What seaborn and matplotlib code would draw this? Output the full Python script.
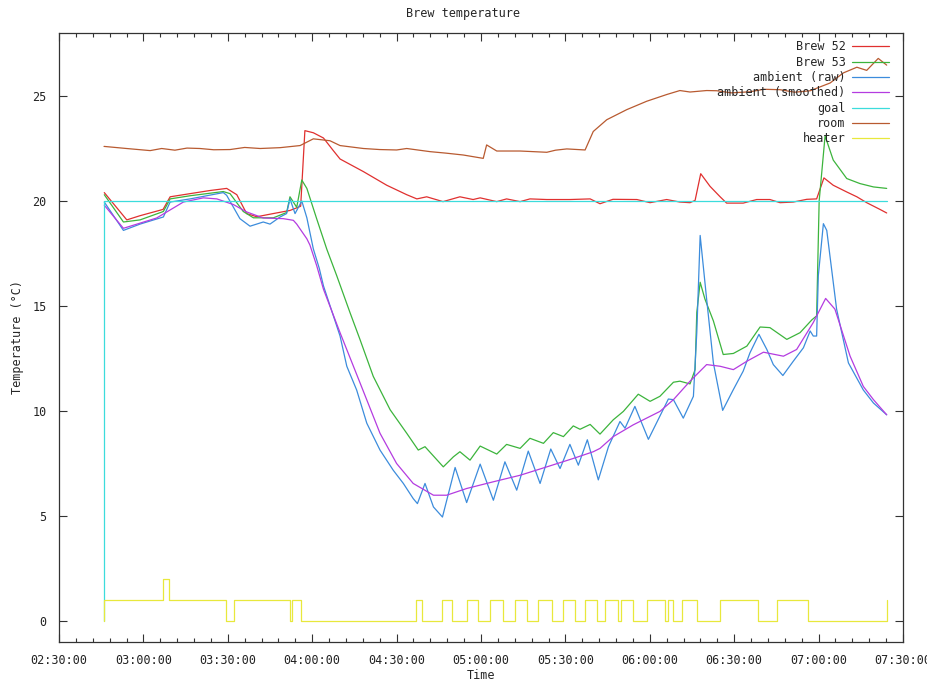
import pandas as pd
import matplotlib
matplotlib.use("Agg")
import matplotlib.pyplot as plt
import matplotlib.dates as mdates
import seaborn as sns

# minutes after 02:30:00
brew52_min = [16.1, 24.1, 28.8, 37.0, 39.5, 46.6, 53.7, 59.6, 63.2, 66.7, 70.3, 76.1, 82.1, 85.0,
              85.9, 87.4, 90.4, 94.0, 97.5, 99.9, 108.2, 116.5, 123.6, 127.2, 130.7, 136.5, 142.5,
              147.2, 149.7, 155.6, 159.1, 163.9, 167.4, 173.4, 181.6, 188.8, 192.3, 196.9, 205.4,
              210.1, 216.0, 220.7, 224.3, 226.1, 228.1, 231.4, 235.0, 237.3, 243.2, 248.0, 252.7,
              256.3, 261.0, 265.8, 269.3, 271.9, 275.2, 280.0, 283.6, 287.1, 291.8, 294.2]
brew52 = [20.4, 19.1, 19.3, 19.6, 20.2, 20.35, 20.5, 20.6, 20.3, 19.4, 19.25, 19.4, 19.55, 19.7,
          19.75, 23.35, 23.25, 23.0, 22.4, 22.0, 21.4, 20.75, 20.3, 20.1, 20.2, 19.97, 20.2,
          20.07, 20.15, 19.97, 20.1, 19.97, 20.1, 20.07, 20.07, 20.1, 19.87, 20.08, 20.07,
          19.92, 20.07, 19.95, 19.92, 20.03, 21.3, 20.7, 20.2, 19.9, 19.9, 20.07, 20.07,
          19.92, 19.95, 20.08, 20.1, 21.1, 20.75, 20.43, 20.2, 19.92, 19.6, 19.43]

brew53_min = [16.1, 22.9, 28.8, 37.1, 39.5, 46.6, 58.4, 60.8, 65.5, 69.1, 76.2, 80.9, 82.1, 84.5,
              86.3, 88.1, 91.6, 95.2, 98.7, 103.4, 107.0, 111.7, 117.7, 123.6, 127.7, 130.1, 136.6,
              140.2, 142.5, 146.1, 149.7, 155.6, 159.1, 163.9, 167.4, 172.2, 175.7, 179.3, 182.8,
              185.2, 188.8, 192.3, 197.0, 200.6, 205.9, 210.1, 213.6, 218.4, 220.7, 224.3, 226.1,
              226.7, 227.9, 229.6, 232.6, 236.1, 239.7, 244.5, 249.2, 252.7, 258.7, 263.4, 267.6,
              269.3, 270.2, 272.3, 275.2, 280.0, 284.7, 289.5, 294.2]
brew53 = [20.3, 19.0, 19.1, 19.5, 20.1, 20.25, 20.45, 20.35, 19.5, 19.2, 19.2, 19.45, 20.2, 19.7,
          21.0, 20.6, 19.15, 17.7, 16.45, 14.7, 13.4, 11.65, 10.06, 8.94, 8.14, 8.3, 7.34,
          7.82, 8.06, 7.66, 8.33, 7.95, 8.41, 8.22, 8.7, 8.46, 8.97, 8.78, 9.29,
          9.13, 9.36, 8.9, 9.58, 9.98, 10.8, 10.46, 10.7, 11.37, 11.42, 11.29, 11.97,
          14.69, 16.13, 15.33, 14.29, 12.69, 12.74, 13.09, 14.0, 13.97, 13.41, 13.73, 14.34,
          14.53, 20.0, 23.1, 21.95, 21.07, 20.83, 20.67, 20.6]

raw_min = [16.1, 22.9, 28.8, 37.1, 39.5, 46.6, 58.4, 59.6, 64.3, 67.9, 72.6, 75.0, 78.6, 80.9,
           82.1, 83.9, 86.3, 88.1, 90.4, 92.5, 94.0, 99.9, 102.3, 105.8, 109.4, 114.1, 118.8,
           122.4, 125.9, 127.4, 130.1, 133.1, 136.3, 140.8, 144.9, 149.7, 154.4, 158.5, 162.7,
           166.8, 171.0, 174.8, 178.1, 181.6, 184.6, 187.8, 191.7, 195.3, 199.4, 201.2, 204.7,
           209.5, 216.6, 218.4, 221.9, 225.5, 226.7, 227.9, 230.2, 232.6, 235.9, 239.7, 243.2,
           245.6, 248.8, 251.6, 253.9, 257.3, 261.0, 264.6, 267.0, 268.1, 269.3, 269.9, 271.7,
           272.9, 276.4, 280.6, 285.9, 289.5, 294.2]
raw = [19.95, 18.6, 18.9, 19.24, 19.95, 20.1, 20.4, 20.27, 19.16, 18.8, 19.0, 18.9, 19.24, 19.4,
       20.1, 19.4, 20.0, 19.2, 17.72, 16.8, 15.96, 13.57, 12.13, 11.0, 9.42, 8.14, 7.18,
       6.55, 5.83, 5.59, 6.55, 5.43, 4.95, 7.31, 5.64, 7.47, 5.75, 7.58, 6.23,
       8.09, 6.55, 8.19, 7.26, 8.41, 7.42, 8.63, 6.72, 8.3, 9.5, 9.18, 10.22,
       8.65, 10.57, 10.54, 9.66, 10.7, 13.73, 18.36, 15.33, 12.29, 10.03, 11.02, 11.9,
       12.77, 13.65, 12.93, 12.21, 11.69, 12.37, 13.01, 13.81, 13.57, 13.57, 16.44, 18.92,
       18.6, 14.85, 12.29, 11.0, 10.38, 9.82]

smooth_min = [16.1, 22.9, 34.7, 44.2, 51.3, 56.1, 62.0, 66.7, 72.6, 79.7, 83.3, 84.5, 88.1, 89.2,
              91.6, 94.0, 99.9, 107.0, 114.1, 120.0, 125.9, 133.1, 137.8, 144.9, 154.4, 163.9,
              173.4, 182.8, 189.9, 192.3, 197.0, 204.1, 213.6, 218.4, 224.3, 230.2, 235.0, 239.7,
              244.5, 250.4, 257.5, 262.2, 268.1, 272.5, 275.8, 281.2, 285.9, 289.5, 294.2]
smooth = [19.8, 18.7, 19.19, 19.95, 20.15, 20.1, 19.83, 19.48, 19.19, 19.16, 19.08, 18.9, 18.2, 17.9,
          16.92, 15.8, 13.73, 11.34, 8.94, 7.5, 6.55, 5.99, 5.99, 6.31, 6.63, 6.94,
          7.34, 7.74, 8.06, 8.22, 8.78, 9.34, 9.98, 10.54, 11.42, 12.21, 12.13, 11.97,
          12.37, 12.8, 12.61, 12.93, 14.21, 15.36, 14.85, 12.61, 11.17, 10.54, 9.82]

goal_min = [16.1, 16.1, 294.2]
goal = [0, 20, 20]

room_min = [16.0, 24.0, 32.4, 36.5, 41.2, 45.5, 50.1, 55.0, 60.8, 66.0, 71.5, 78.6, 85.7, 90.4,
            96.3, 99.9, 108.2, 114.0, 120.0, 123.6, 131.9, 137.5, 143.7, 150.8, 152.0, 155.6,
            163.9, 173.4, 176.5, 180.5, 187.0, 189.9, 194.7, 201.8, 208.9, 216.0, 220.7, 224.3,
            230.2, 233.8, 239.0, 245.6, 250.5, 256.3, 261.5, 267.0, 274.1, 278.8, 283.6, 287.1,
            291.2, 294.2]
room = [22.6, 22.5, 22.4, 22.5, 22.42, 22.52, 22.5, 22.44, 22.45, 22.55, 22.5, 22.54, 22.64, 22.96,
        22.87, 22.64, 22.5, 22.45, 22.43, 22.5, 22.35, 22.28, 22.19, 22.03, 22.67, 22.38,
        22.38, 22.32, 22.42, 22.48, 22.43, 23.31, 23.87, 24.35, 24.75, 25.07, 25.26, 25.19,
        25.26, 25.25, 25.15, 25.2, 25.32, 25.3, 25.18, 25.25, 25.62, 26.1, 26.37, 26.22,
        26.79, 26.47]

heater_min = [16.1, 16.1, 36.9, 39.2, 59.4, 62.2, 82.1, 82.8, 85.9, 126.9, 129.0, 136.0, 139.6,
              144.9, 149.1, 153.2, 157.9, 162.1, 166.3, 170.3, 175.1, 179.2, 183.4, 187.0, 191.2,
              194.1, 198.7, 199.8, 204.0, 209.0, 215.4, 216.5, 218.3, 221.5, 226.8, 235.0, 248.5,
              255.2, 266.2, 294.3]
heater = [0, 1, 2, 1, 0, 1, 0, 1, 0, 1, 0, 1, 0,
          1, 0, 1, 0, 1, 0, 1, 0, 1, 0, 1, 0,
          1, 0, 1, 0, 1, 0, 1, 0, 1, 0, 1, 0,
          1, 0, 1]

series_names = ["Brew 52", "Brew 53", "ambient (raw)", "ambient (smoothed)", "goal", "room"]
series_data = [(brew52_min, brew52), (brew53_min, brew53), (raw_min, raw),
               (smooth_min, smooth), (goal_min, goal), (room_min, room)]
colors = ["#e0302f", "#3cb43c", "#3c8cdc", "#b43ce0", "#3cdcdc", "#b85a30", "#e8e83c"]

base = pd.Timestamp("2000-01-01 02:30:00")


def to_frame(minutes, values, name):
    return pd.DataFrame({"time": base + pd.to_timedelta(minutes, unit="min"),
                         "value": values, "series": name})


sns.set_style("ticks")
plt.rcParams["font.family"] = ["DejaVu Sans Mono"]
plt.rcParams["font.size"] = 8.5

fig = plt.figure(figsize=(9.27, 6.83), dpi=100)
ax = fig.add_axes([59 / 927, 1 - 642 / 683, 844 / 927, 609 / 683])

for (mins, vals), name, col in zip(series_data, series_names, colors):
    df = to_frame(mins, vals, name)
    sns.lineplot(data=df, x="time", y="value", color=col, linewidth=0.9,
                 estimator=None, sort=False, label=name, ax=ax)

heat_df = to_frame(heater_min, heater, "heater")
sns.lineplot(data=heat_df, x="time", y="value", color=colors[-1], linewidth=0.9,
             estimator=None, sort=False, drawstyle="steps-post", label="heater", ax=ax)

ax.set_xlim(base, base + pd.Timedelta(minutes=300))
ax.set_ylim(-1, 28)
ax.set_yticks([0, 5, 10, 15, 20, 25])
ax.xaxis.set_major_locator(mdates.MinuteLocator(byminute=[0, 30]))
ax.xaxis.set_minor_locator(mdates.MinuteLocator(byminute=range(0, 60, 6)))
ax.xaxis.set_major_formatter(mdates.DateFormatter("%H:%M:%S"))

ax.tick_params(which="both", direction="in", top=True, right=True, colors="#333333",
               labelcolor="#222222", width=0.8)
ax.tick_params(which="major", length=6, pad=9)
ax.tick_params(which="minor", length=3)
for sp in ax.spines.values():
    sp.set_color("#333333")
    sp.set_linewidth(0.9)

ax.set_xlabel("Time", labelpad=1)
ax.set_ylabel("Temperature (°C)", labelpad=6)
fig.text(0.5, 1 - 14 / 683, "Brew temperature", ha="center", va="center")

ax.legend(loc="upper right", bbox_to_anchor=(0.983, 0.988), frameon=False, markerfirst=False,
          handlelength=3.1, handletextpad=0.55, labelspacing=0.2, borderpad=0, borderaxespad=0)

fig.savefig("out.png", dpi=100)
